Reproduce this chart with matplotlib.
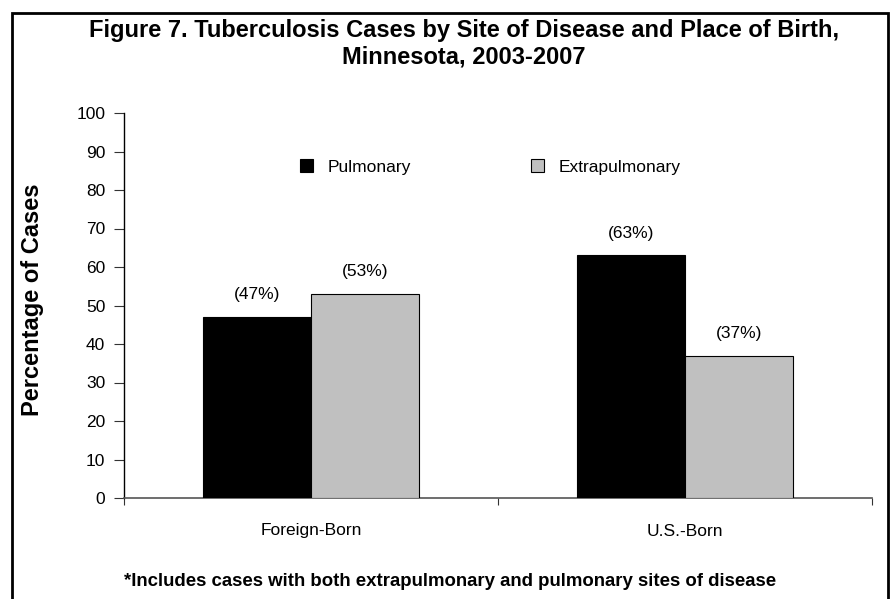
import matplotlib
matplotlib.use("Agg")
import matplotlib.pyplot as plt
from matplotlib.patches import Rectangle
import numpy as np

plt.rcParams['font.family'] = ['Liberation Sans', 'DejaVu Sans']

categories = ["Foreign-Born", "U.S.-Born"]
series_names = ["Pulmonary", "Extrapulmonary"]
pulmonary = [47, 63]
extrapulmonary = [53, 37]
labels_pul = ["(47%)", "(63%)"]
labels_ext = ["(53%)", "(37%)"]
yticks = [0, 10, 20, 30, 40, 50, 60, 70, 80, 90, 100]

W, H = 893, 599
fig = plt.figure(figsize=(W / 100, H / 100), dpi=100)
fig.patch.set_facecolor("white")

# Outer border (open at bottom edge, extends beyond)
fig.patches.append(Rectangle((12 / W, -0.05), (888 - 12) / W, (H - 13) / H + 0.05,
                             transform=fig.transFigure, fill=False,
                             edgecolor="black", linewidth=2))

ax_h = 498 - 113
ax = fig.add_axes([124 / W, (H - 498) / H, (872 - 124) / W, ax_h / H])

x = np.arange(len(categories))
bw = 0.288
b1 = ax.bar(x - bw / 2, pulmonary, bw, color="black", edgecolor="black",
            linewidth=0.8, label=series_names[0], zorder=3)
b2 = ax.bar(x + bw / 2, extrapulmonary, bw, color="#c0c0c0", edgecolor="black",
            linewidth=0.8, label=series_names[1], zorder=3)

FS = 12.5
for bars, labs in ((b1, labels_pul), (b2, labels_ext)):
    for rect, lab in zip(bars, labs):
        ax.annotate(lab, (rect.get_x() + rect.get_width() / 2, rect.get_height()),
                    xytext=(0, 16), textcoords="offset points", ha="center",
                    va="center", fontsize=FS)

ax.set_xlim(-0.5, 1.5)
ax.set_ylim(0, 100)
ax.set_yticks(yticks)
ax.set_yticklabels([str(v) for v in yticks], fontsize=FS)
ax.tick_params(axis="y", length=7, width=0.8, color="#333333", pad=6.5)

ax.set_xticks([-0.5, 0.5, 1.5])
ax.set_xticklabels([])
ax.tick_params(axis="x", length=5, width=0.8, color="#333333")
for xi, name in zip(x, categories):
    ax.text(xi, -33 / ax_h, name, transform=ax.get_xaxis_transform(),
            ha="center", va="center", fontsize=FS)

for s in ["top", "right"]:
    ax.spines[s].set_visible(False)
ax.spines["left"].set_color("black")
ax.spines["left"].set_linewidth(1.0)
ax.spines["bottom"].set_color("#555555")
ax.spines["bottom"].set_linewidth(1.2)

fig.text(33 / W, (H - 300) / H, "Percentage of Cases", rotation=90,
         ha="center", va="center", fontsize=17, fontweight="bold")

leg = ax.legend(loc="center", bbox_to_anchor=(0.49, 0.86), ncol=2, frameon=False,
                fontsize=FS, handlelength=0.75, handleheight=0.75,
                handletextpad=0.85, columnspacing=6.9)

fig.text(464 / W, (H - 30) / H, "Figure 7. Tuberculosis Cases by Site of Disease and Place of Birth,",
         ha="center", va="center", fontsize=17, fontweight="bold")
fig.text(464 / W, (H - 57) / H, "Minnesota, 2003-2007",
         ha="center", va="center", fontsize=17, fontweight="bold")
fig.text(450 / W, (H - 582) / H,
         "*Includes cases with both extrapulmonary and pulmonary sites of disease",
         ha="center", va="center", fontsize=13.4, fontweight="bold")

fig.savefig("out.png", dpi=100)
